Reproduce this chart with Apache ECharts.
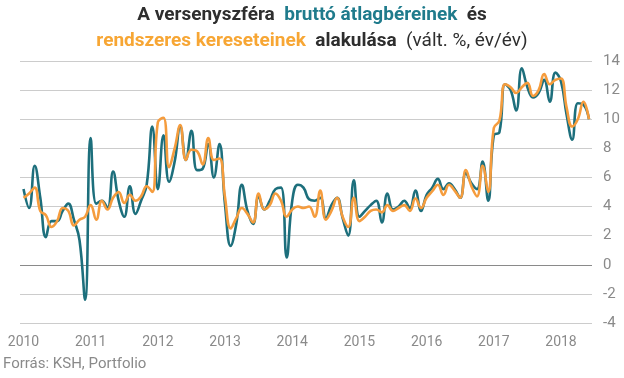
<!DOCTYPE html>
<html>
<head>
<meta charset="utf-8">
<script src="https://cdn.jsdelivr.net/npm/echarts@6/dist/echarts.min.js"></script>
<style>
html,body{margin:0;padding:0;background:#fff;}
#chart{width:624px;height:378px;}
</style>
</head>
<body>
<div id="chart"></div>
<script>
// Years shown on the x axis
const yearLabels = ['2010','2011','2012','2013','2014','2015','2016','2017','2018'];
// Monthly categories, Jan 2010 .. Jun 2018
const months = [];
yearLabels.forEach(function (y) {
  for (let m = 1; m <= 12; m++) {
    if (months.length < 102) months.push(y + '-' + (m < 10 ? '0' + m : m));
  }
});
// Gross average wages (teal), y/y %
const grossWages = [
  5.2, 3.9, 6.8, 4.6, 1.9, 3.0, 3.0, 3.7, 4.2, 3.1, 1.7, -2.4,
  8.7, 4.2, 4.4, 3.9, 6.4, 4.4, 3.3, 5.4, 3.5, 4.4, 5.5, 9.5,
  5.2, 8.9, 5.7, 7.1, 9.5, 7.2, 9.2, 6.5, 6.6, 8.3, 6.0, 8.3,
  4.1, 1.3, 2.8, 5.5, 3.7, 2.8, 4.7, 3.8, 4.4, 5.2, 5.3, 0.5,
  4.4, 5.5, 5.3, 4.5, 4.4, 4.6, 3.2, 4.1, 4.6, 3.2, 2.0, 5.8,
  3.3, 3.7, 4.1, 4.4, 2.9, 4.9, 3.8, 4.0, 4.4, 3.9, 5.1, 3.7,
  4.8, 5.3, 5.9, 5.2, 5.6, 5.2, 4.6, 6.3, 5.6, 5.2, 7.1, 4.4,
  8.9, 9.1, 12.4, 12.0, 10.6, 13.5, 12.2, 11.5, 11.8, 12.7, 11.2, 13.2,
  12.6, 10.3, 8.6, 11.1, 11.0, 10.0
];
// Regular earnings (orange), y/y %
const regularEarnings = [
  4.6, 4.9, 5.3, 3.7, 3.4, 2.6, 3.0, 3.9, 3.7, 2.7, 3.1, 3.3,
  4.1, 3.1, 4.4, 3.8, 4.6, 5.0, 4.25, 4.8, 4.4, 4.7, 5.4, 5.0,
  9.8, 10.1, 6.7, 8.0, 9.6, 7.2, 7.9, 7.8, 6.9, 8.7, 7.2, 7.3,
  4.6, 2.5, 3.2, 3.9, 3.5, 2.9, 4.9, 3.8, 4.1, 4.9, 4.4, 3.3,
  3.8, 4.0, 3.9, 4.0, 3.3, 5.1, 3.1, 3.7, 4.6, 3.3, 2.6, 4.6,
  3.0, 3.3, 3.7, 3.8, 3.6, 4.1, 3.7, 3.9, 4.1, 3.7, 4.55, 3.9,
  4.6, 5.05, 5.5, 4.8, 5.5, 5.1, 4.6, 6.5, 5.4, 4.7, 6.8, 5.0,
  9.4, 9.9, 12.4, 12.2, 11.8, 12.2, 12.5, 11.6, 12.0, 13.1, 12.4, 12.7,
  12.8, 10.8, 9.5, 10.0, 11.2, 10.0
];
const yMin = -4, yMax = 14, yStep = 2;

const TEAL = '#1d6f7c', ORANGE = '#f59c3d';
const FONT = 'Roboto, "Noto Sans", sans-serif';
const gridTop = 61, gridBottom = 55;

const chart = echarts.init(document.getElementById('chart'));
chart.setOption({
  animation: false,
  backgroundColor: '#ffffff',
  title: [
    {
      left: 'center', top: 6, padding: 0,
      text: '{b|A versenyszféra}  {t|bruttó átlagbéreinek}  {b|és}',
      textStyle: {
        fontFamily: FONT, fontSize: 19, fontWeight: 'bold', color: '#2e2e2e',
        rich: {
          b: { fontFamily: FONT, fontSize: 19, fontWeight: 'bold', color: '#2e2e2e' },
          t: { fontFamily: FONT, fontSize: 19, fontWeight: 'bold', color: '#1f7b8c' }
        }
      }
    },
    {
      left: 'center', top: 32, padding: 0,
      text: '{o|rendszeres kereseteinek}  {b|alakulása}  {n|(vált. %, év/év)}',
      textStyle: {
        fontFamily: FONT, fontSize: 19, fontWeight: 'bold', color: '#2e2e2e',
        rich: {
          o: { fontFamily: FONT, fontSize: 19, fontWeight: 'bold', color: '#f7a634' },
          b: { fontFamily: FONT, fontSize: 19, fontWeight: 'bold', color: '#2e2e2e' },
          n: { fontFamily: FONT, fontSize: 19, fontWeight: 'normal', color: '#2e2e2e' }
        }
      }
    }
  ],
  graphic: [{
    type: 'text', left: 3, top: 357,
    style: { text: 'Forrás: KSH, Portfolio', fontFamily: FONT, fontSize: 15, fill: '#8a8a8a' }
  }],
  grid: [
    { left: 20, right: 32, top: gridTop, bottom: gridBottom },
    { left: 23.5, right: 35, top: gridTop, bottom: gridBottom }
  ],
  xAxis: [
    { gridIndex: 0, type: 'value', min: 0, max: 1, show: false },
    {
      gridIndex: 1, type: 'category', data: months, boundaryGap: false,
      axisLine: { show: false }, axisTick: { show: false }, splitLine: { show: false },
      axisLabel: {
        interval: function (i) { return i % 12 === 0; },
        formatter: function (v) { return v.slice(0, 4); },
        fontFamily: FONT, fontSize: 14, color: '#8a8a8a', margin: 12
      }
    }
  ],
  yAxis: [
    {
      gridIndex: 0, type: 'value', position: 'right', min: yMin, max: yMax, interval: yStep,
      axisLine: { show: false }, axisTick: { show: false },
      axisLabel: { fontFamily: FONT, fontSize: 15, color: '#8a8a8a', margin: 11, align: 'left' },
      splitLine: {
        lineStyle: {
          width: 1,
          color: ['#cccccc', '#cccccc', '#8a8a8a', '#cccccc', '#cccccc', '#cccccc', '#cccccc', '#cccccc', '#cccccc', '#cccccc']
        }
      }
    },
    { gridIndex: 1, type: 'value', min: yMin, max: yMax, interval: yStep, show: false, splitLine: { show: false } }
  ],
  series: [
    {
      name: 'Bruttó átlagbér', type: 'line', xAxisIndex: 1, yAxisIndex: 1,
      data: grossWages, smooth: 0.45, showSymbol: false,
      lineStyle: { color: TEAL, width: 2.6 }, z: 2
    },
    {
      name: 'Rendszeres kereset', type: 'line', xAxisIndex: 1, yAxisIndex: 1,
      data: regularEarnings, smooth: 0.45, showSymbol: false,
      lineStyle: { color: ORANGE, width: 2.6 }, z: 3
    }
  ]
});
</script>
</body>
</html>
